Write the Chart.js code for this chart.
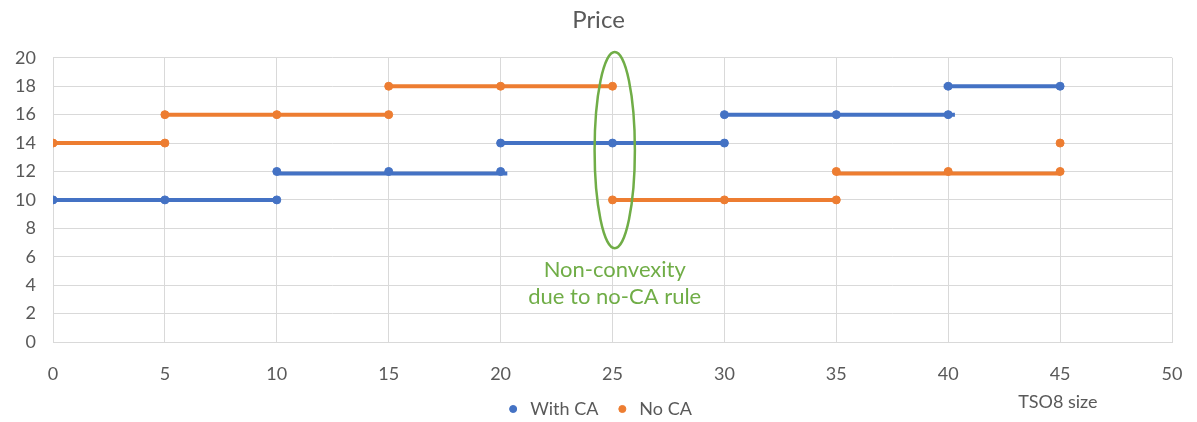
<!DOCTYPE html>
<html>
<head>
<meta charset="utf-8">
<script src="https://cdn.jsdelivr.net/npm/chart.js@4.4.1/dist/chart.umd.min.js"></script>
<style>
  body { margin: 0; background: #fff; }
  canvas { display: block; }
</style>
</head>
<body>
<canvas id="priceChart" width="1197" height="422"></canvas>
<script>
// Step segments: [from, to, price]
const withCaSteps = [[0, 10, 10], [10, 20.3, 11.85], [20, 30, 14], [30, 40.3, 16], [39.8, 45, 18]];
const noCaSteps = [[0, 5, 14], [5, 15, 16], [15, 25, 18], [25, 35, 10], [35, 45, 11.85]];

// Marker points
const withCaX = [0, 5, 10, 10, 15, 20, 20, 25, 30, 30, 35, 40, 40, 45];
const withCaY = [10, 10, 10, 12, 12, 12, 14, 14, 14, 16, 16, 16, 18, 18];
const noCaX = [0, 5, 5, 10, 15, 15, 20, 25, 25, 30, 35, 35, 40, 45, 45];
const noCaY = [14, 14, 16, 16, 16, 18, 18, 18, 10, 10, 10, 12, 12, 12, 14];

const xTicks = [0, 5, 10, 15, 20, 25, 30, 35, 40, 45, 50];
const yTicks = [0, 2, 4, 6, 8, 10, 12, 14, 16, 18, 20];

const seriesNames = ["With CA", "No CA"];
const noteLines = ["Non-convexity", "due to no-CA rule"];
const xAxisTitle = "TSO8 size";

const BLUE = "#4472c4";
const ORANGE = "#ed7d31";
const GREEN = "#70ad47";
const TEXT = "#595959";
const FONT = "Lato, 'Open Sans', sans-serif";

function stepsToLine(steps) {
  const pts = [];
  steps.forEach(([x0, x1, y]) => {
    pts.push({ x: x0, y: y }, { x: x1, y: y }, { x: x1, y: null });
  });
  return pts;
}

function toPoints(xs, ys) {
  return xs.map((x, i) => ({ x: x, y: ys[i] }));
}

// ellipse around the jump at 25, plus its note and the axis caption
const notePlugin = {
  id: "notes",
  afterDatasetsDraw(chart) {
    const { ctx, scales: { x, y } } = chart;
    const cx = x.getPixelForValue(25.1);
    const cy = y.getPixelForValue(13.5);
    const rx = x.getPixelForValue(25.1) - x.getPixelForValue(24.2);
    const ry = y.getPixelForValue(6.6) - y.getPixelForValue(13.5);
    ctx.save();
    ctx.strokeStyle = GREEN;
    ctx.lineWidth = 2.5;
    ctx.beginPath();
    ctx.ellipse(cx, cy, rx, ry, 0, 0, Math.PI * 2);
    ctx.stroke();

    ctx.fillStyle = GREEN;
    ctx.font = "22px " + FONT;
    ctx.textAlign = "center";
    ctx.textBaseline = "middle";
    ctx.fillText(noteLines[0], cx, 270);
    ctx.fillText(noteLines[1], cx, 297);

    ctx.fillStyle = TEXT;
    ctx.font = "18px " + FONT;
    ctx.fillText(xAxisTitle, x.getPixelForValue(44.9), 402);
    ctx.restore();
  }
};

const ctx = document.getElementById("priceChart").getContext("2d");
new Chart(ctx, {
  type: "scatter",
  data: {
    datasets: [
      {
        label: seriesNames[0],
        data: toPoints(withCaX, withCaY),
        backgroundColor: BLUE,
        borderColor: BLUE,
        pointRadius: 4,
        showLine: false,
        order: 0
      },
      {
        label: seriesNames[1],
        data: toPoints(noCaX, noCaY),
        backgroundColor: ORANGE,
        borderColor: ORANGE,
        pointRadius: 4,
        showLine: false,
        order: 0
      },
      {
        label: "steps-with",
        data: stepsToLine(withCaSteps),
        borderColor: BLUE,
        borderWidth: 4,
        pointRadius: 0,
        showLine: true,
        spanGaps: false,
        order: 1
      },
      {
        label: "steps-no",
        data: stepsToLine(noCaSteps),
        borderColor: ORANGE,
        borderWidth: 4,
        pointRadius: 0,
        showLine: true,
        spanGaps: false,
        order: 1
      }
    ]
  },
  options: {
    responsive: false,
    animation: false,
    devicePixelRatio: 1,
    // negative bottom padding lets the legend sit lower without squeezing the plot
    layout: { padding: { left: 0, right: 0, top: 0, bottom: -6 } },
    plugins: {
      tooltip: { enabled: false },
      title: {
        display: true,
        text: "Price",
        color: TEXT,
        font: { family: FONT, size: 24, weight: "normal" },
        padding: { top: 6, bottom: 23 }
      },
      legend: {
        position: "bottom",
        labels: {
          filter: (item) => item.datasetIndex < 2,
          usePointStyle: true,
          pointStyle: "circle",
          boxWidth: 16,
          boxHeight: 5,
          color: TEXT,
          font: { family: FONT, size: 18 },
          padding: 16
        }
      }
    },
    scales: {
      x: {
        type: "linear",
        min: 0,
        max: 50,
        afterBuildTicks: (scale) => { scale.ticks = xTicks.map((v) => ({ value: v })); },
        afterFit: (scale) => {
          scale.height = 42;
          scale.paddingRight = 25;
        },
        grid: { color: "#d9d9d9", lineWidth: 1, drawTicks: false },
        border: { color: "#d9d9d9" },
        ticks: { color: TEXT, font: { family: FONT, size: 18 }, padding: 21 }
      },
      y: {
        min: 0,
        max: 20,
        afterBuildTicks: (scale) => { scale.ticks = yTicks.map((v) => ({ value: v })); },
        afterFit: (scale) => { scale.width = 53; },
        grid: { color: "#d9d9d9", lineWidth: 1, drawTicks: false },
        border: { display: false },
        ticks: { color: TEXT, font: { family: FONT, size: 18 }, padding: 17 }
      }
    }
  },
  plugins: [notePlugin]
});
</script>
</body>
</html>
